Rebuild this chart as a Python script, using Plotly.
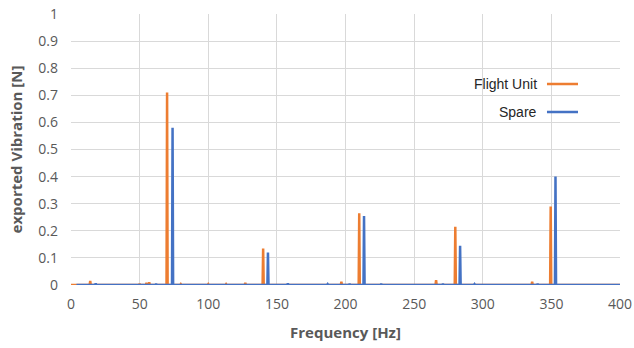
import plotly.graph_objects as go

# ---- data ----
x_range = [0, 400]
y_range = [0, 1]

fu_start, fu_end = 0, 400          # Flight Unit spectrum span [Hz]
fu_peak_freq = [14, 50, 55, 57, 70, 80, 100, 113, 127, 140, 197, 210, 266, 280, 336, 349.5]
fu_peak_amp = [0.015, 0.005, 0.008, 0.010, 0.71, 0.003, 0.003, 0.003, 0.008, 0.135,
               0.012, 0.265, 0.018, 0.215, 0.012, 0.29]

sp_start, sp_end = 4, 400          # Spare spectrum span [Hz]
sp_peak_freq = [18, 62, 74, 143.5, 158, 187, 203, 213.5, 226, 271, 283.5, 294, 340, 353]
sp_peak_amp = [0.006, 0.004, 0.58, 0.12, 0.006, 0.003, 0.004, 0.255, 0.004, 0.004,
               0.145, 0.003, 0.004, 0.40]

series_names = ["Flight Unit", "Spare"]
colors = ["#ED7D31", "#4472C4"]

HALF = 0.4  # drawing half-width of a spectral line [Hz]


def spectrum(start, end, freqs, amps):
    xs, ys = [start], [0]
    for f, a in zip(freqs, amps):
        xs += [f - HALF, f, f + HALF]
        ys += [0, a, 0]
    xs.append(end)
    ys.append(0)
    return xs, ys


fig = go.Figure()
for name, color, (s, e, fr, am) in zip(
        series_names, colors,
        [(fu_start, fu_end, fu_peak_freq, fu_peak_amp),
         (sp_start, sp_end, sp_peak_freq, sp_peak_amp)]):
    xs, ys = spectrum(s, e, fr, am)
    fig.add_trace(go.Scatter(x=xs, y=ys, mode="lines", name=name, cliponaxis=False,
                             line=dict(color=color, width=2.5), showlegend=False))

grid = "#d9d9d9"
tick_font = dict(family="Open Sans, Liberation Sans, Arial", size=14, color="#595959")
title_font = dict(family="Open Sans, Liberation Sans, Arial", size=15, color="#595959")

fig.update_layout(
    width=634, height=348,
    margin=dict(l=71, r=14, t=14, b=63, autoexpand=False),
    paper_bgcolor="white", plot_bgcolor="white",
    xaxis=dict(range=x_range, dtick=50, tick0=0, showgrid=True, gridcolor=grid, gridwidth=1,
               zeroline=False, showline=False, ticks="", tickfont=tick_font,
               automargin=False, ticklabelstandoff=9,
               title=dict(text="<b>Frequency [Hz]</b>", font=title_font, standoff=15)),
    yaxis=dict(range=y_range, dtick=0.1, tick0=0, showgrid=True, gridcolor=grid, gridwidth=1,
               zeroline=False, showline=False, ticks="", tickfont=tick_font,
               automargin=False, ticklabelstandoff=12,
               title=dict(text="<b>exported Vibration [N]</b>", font=title_font, standoff=12)),
    showlegend=False,
)

# legend drawn as text with line samples to the right (as in the reference)
legend_y = [0.742, 0.638]
for name, color, yy in zip(series_names, colors, legend_y):
    fig.add_annotation(xref="paper", yref="paper", x=0.8525, y=yy, xanchor="right",
                       yanchor="middle", text=name, showarrow=False,
                       font=dict(family="Liberation Sans, Arial", size=14, color="#262626"))
    fig.add_shape(type="line", xref="paper", yref="paper", x0=0.867, x1=0.9235,
                  y0=yy, y1=yy, line=dict(color=color, width=2.5))

fig.write_html("out.html")
